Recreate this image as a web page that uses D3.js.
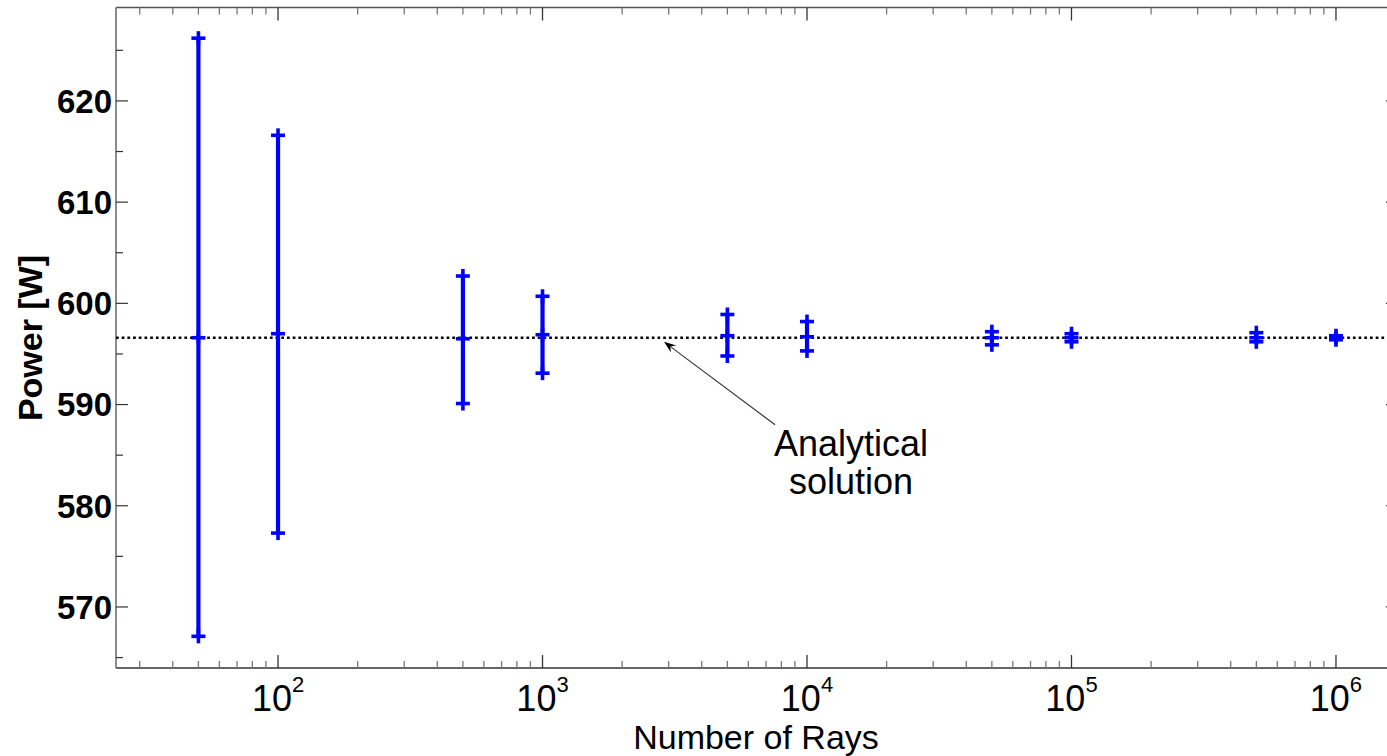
<!DOCTYPE html>
<html><head><meta charset="utf-8">
<script src="https://cdn.jsdelivr.net/npm/d3@7"></script>
<style>html,body{margin:0;padding:0;background:#fff;}svg{display:block;}</style>
</head><body><svg id="c" width="1387" height="756"></svg>
<script>
// ---- data ----
const rays = [50, 100, 500, 1000, 5000, 10000, 50000, 100000, 500000, 1000000];
const powerMean = [596.6, 597.0, 596.5, 596.9, 596.8, 596.7, 596.6, 596.6, 596.6, 596.6];
const powerLow  = [567.1, 577.3, 590.1, 593.1, 594.8, 595.3, 595.9, 596.2, 596.2, 596.4];
const powerHigh = [626.2, 616.6, 602.7, 600.7, 598.9, 598.2, 597.2, 597.0, 597.1, 596.8];
const analytical = 596.6;
const yTicks = [570, 580, 590, 600, 610, 620];
const xTickExp = [2, 3, 4, 5, 6];
const annotation = ["Analytical", "solution"];

// ---- layout ----
const svg = d3.select("#c");
const L = 116, R = 1398, T = 7.5, B = 668;
const x = d3.scaleLog().domain([24.4, 1.716e6]).range([L, R]);
const y = d3.scaleLinear().domain([563.97, 629.23]).range([B, T]);
const axisCol = "#333";
const font = "'Liberation Sans', Arial, sans-serif";

// minor ticks
const yMinor = d3.range(565, 630, 5);
const xMinor = [];
for (let e = 1; e <= 6; e++) for (let m = 1; m < 10; m++) { const v = m * Math.pow(10, e); if (v >= x.domain()[0] && v <= x.domain()[1]) xMinor.push(v); }
const g = svg.append("g");

// axes box lines
g.append("line").attr("x1", L).attr("x2", R).attr("y1", B).attr("y2", B).attr("stroke", axisCol).attr("stroke-width", 1.5);
g.append("line").attr("x1", L).attr("x2", R).attr("y1", T).attr("y2", T).attr("stroke", "#555").attr("stroke-width", 1.5);
g.append("line").attr("x1", L).attr("x2", L).attr("y1", T).attr("y2", B).attr("stroke", "#666").attr("stroke-width", 1.5);
g.append("line").attr("x1", R).attr("x2", R).attr("y1", T).attr("y2", B).attr("stroke", "#666").attr("stroke-width", 1.5);

// y ticks
yMinor.forEach(v => {
  const major = yTicks.includes(v);
  const len = major ? 12 : 7;
  g.append("line").attr("x1", L).attr("x2", L + len).attr("y1", y(v)).attr("y2", y(v)).attr("stroke", axisCol).attr("stroke-width", 1.2);
  g.append("line").attr("x1", R).attr("x2", R - len).attr("y1", y(v)).attr("y2", y(v)).attr("stroke", axisCol).attr("stroke-width", 1.2);
});
// x ticks
xMinor.forEach(v => {
  const major = Math.abs(Math.log10(v) - Math.round(Math.log10(v))) < 1e-9;
  const len = major ? 13 : 7;
  const c = major ? axisCol : "#777";
  g.append("line").attr("x1", x(v)).attr("x2", x(v)).attr("y1", B).attr("y2", B - len).attr("stroke", c).attr("stroke-width", 1.3);
  g.append("line").attr("x1", x(v)).attr("x2", x(v)).attr("y1", T).attr("y2", T + len).attr("stroke", c).attr("stroke-width", 1.3);
});

// y tick labels
yTicks.forEach(v => {
  g.append("text").attr("x", L - 4).attr("y", y(v)).attr("dy", "0.36em").attr("text-anchor", "end")
    .attr("font-family", font).attr("font-size", 33).attr("font-weight", "bold").attr("fill", "#000").text(v);
});
// x tick labels (10^n)
xTickExp.forEach(e => {
  const t = g.append("text").attr("x", x(Math.pow(10, e))).attr("y", 711).attr("text-anchor", "middle")
    .attr("font-family", font).attr("font-size", 36).attr("fill", "#000");
  t.append("tspan").text("10");
  t.append("tspan").attr("dy", -19).attr("font-size", 22).text(e);
});

// axis titles
g.append("text").attr("x", 756).attr("y", 749).attr("text-anchor", "middle")
  .attr("font-family", font).attr("font-size", 34).attr("fill", "#000").text("Number of Rays");
g.append("text").attr("transform", "translate(42," + 338 + ") rotate(-90)").attr("text-anchor", "middle")
  .attr("font-family", font).attr("font-size", 34).attr("font-weight", "bold").attr("fill", "#000").text("Power [W]");

// analytical dotted line
g.append("line").attr("x1", L).attr("x2", 1387).attr("y1", y(analytical)).attr("y2", y(analytical))
  .attr("stroke", "#000").attr("stroke-width", 2.6).attr("stroke-dasharray", "2.7,3");

// error bars
const blue = "#0000ff";
const eb = g.append("g");
rays.forEach((r, i) => {
  const cx = x(r);
  eb.append("line").attr("x1", cx).attr("x2", cx).attr("y1", y(powerLow[i])).attr("y2", y(powerHigh[i]))
    .attr("stroke", blue).attr("stroke-width", 4.2);
  [powerLow[i], powerMean[i], powerHigh[i]].forEach(v => {
    const cy = y(v);
    eb.append("line").attr("x1", cx - 7).attr("x2", cx + 7).attr("y1", cy).attr("y2", cy).attr("stroke", blue).attr("stroke-width", 3.6);
    eb.append("line").attr("x1", cx).attr("x2", cx).attr("y1", cy - 7).attr("y2", cy + 7).attr("stroke", blue).attr("stroke-width", 3.6);
  });
});

// annotation arrow
const tip = [x(2880), y(596.2)], tail = [x(7570), y(588.0)];
const ang = Math.atan2(tip[1] - tail[1], tip[0] - tail[0]);
g.append("line").attr("x1", tail[0]).attr("y1", tail[1]).attr("x2", tip[0] - 8 * Math.cos(ang)).attr("y2", tip[1] - 8 * Math.sin(ang))
  .attr("stroke", "#333").attr("stroke-width", 1.1);
const hl = 12, hw = 4.5;
const bx = tip[0] - hl * Math.cos(ang), by = tip[1] - hl * Math.sin(ang);
const px = -Math.sin(ang), py = Math.cos(ang);
g.append("path").attr("d", `M${tip[0]},${tip[1]}L${bx + hw * px},${by + hw * py}L${bx + 0.35*hl*Math.cos(ang)},${by + 0.35*hl*Math.sin(ang)}L${bx - hw * px},${by - hw * py}Z`).attr("fill", "#000");

annotation.forEach((s, k) => {
  g.append("text").attr("x", x(14660)).attr("y", 456 + k * 38).attr("text-anchor", "middle")
    .attr("font-family", font).attr("font-size", 36).attr("fill", "#000").text(s);
});
</script></body></html>
